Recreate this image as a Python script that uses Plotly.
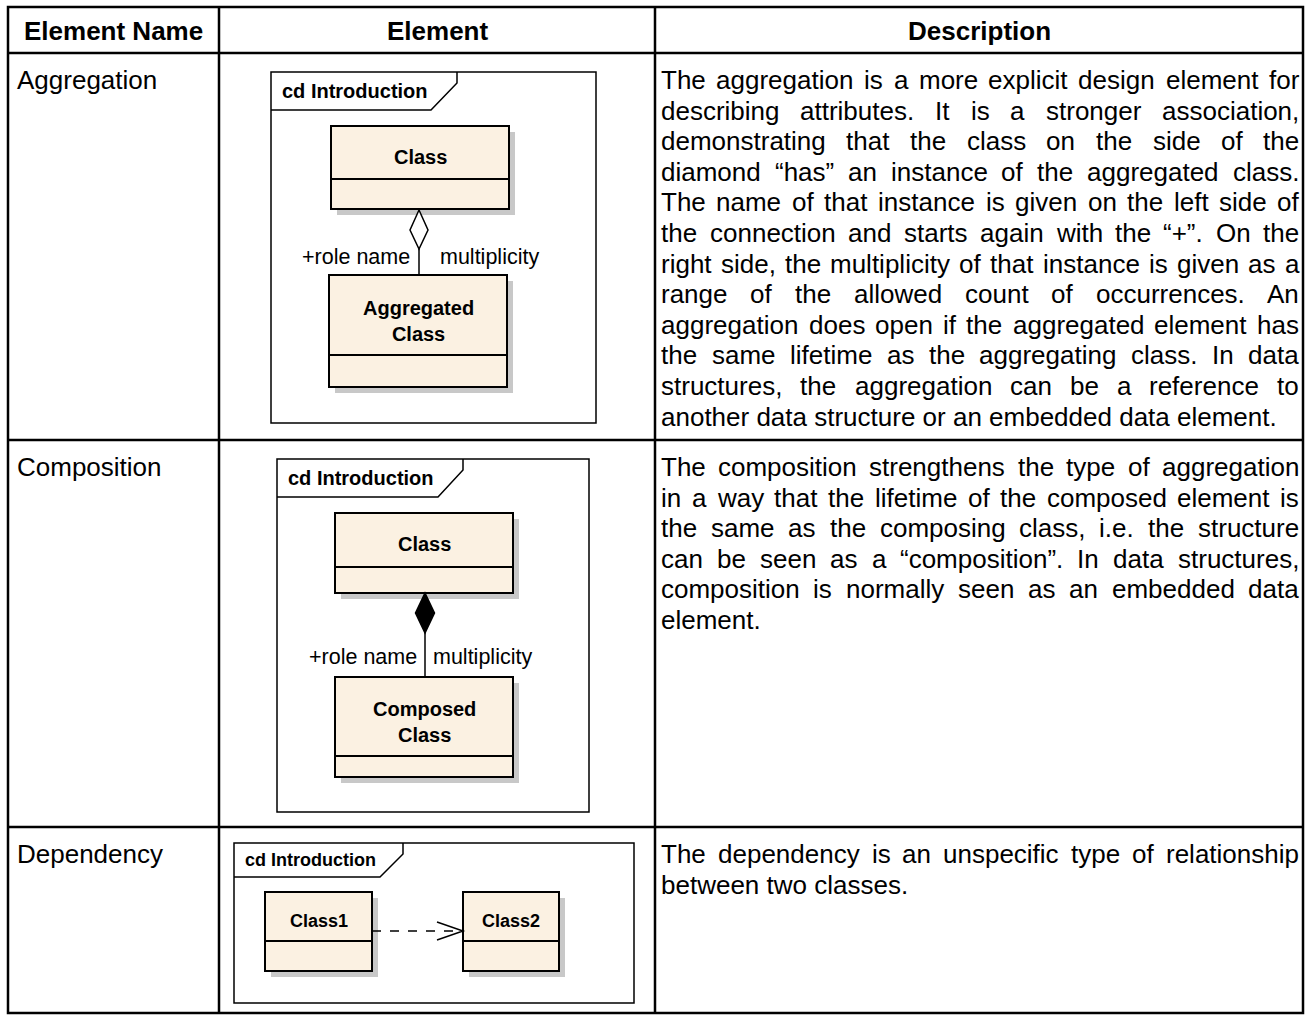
import plotly.graph_objects as go

# ---------------- data (text content) ----------------
header_labels = ["Element Name", "Element", "Description"]
element_names = ["Aggregation", "Composition", "Dependency"]
diagram_title = "cd Introduction"
aggregation_classes = ["Class", "Aggregated<br>Class"]
composition_classes = ["Class", "Composed<br>Class"]
dependency_classes = ["Class1", "Class2"]
end_labels = ["+role name", "multiplicity"]

desc_aggregation = [
    "The aggregation is a more explicit design element for",
    "describing attributes. It is a stronger association,",
    "demonstrating that the class on the side of the",
    "diamond \u201chas\u201d an instance of the aggregated class.",
    "The name of that instance is given on the left side of",
    "the connection and starts again with the \u201c+\u201d. On the",
    "right side, the multiplicity of that instance is given as a",
    "range of the allowed count of occurrences. An",
    "aggregation does open if the aggregated element has",
    "the same lifetime as the aggregating class. In data",
    "structures, the aggregation can be a reference to",
    "another data structure or an embedded data element.",
]
desc_composition = [
    "The composition strengthens the type of aggregation",
    "in a way that the lifetime of the composed element is",
    "the same as the composing class, i.e. the structure",
    "can be seen as a \u201ccomposition\u201d. In data structures,",
    "composition is normally seen as an embedded data",
    "element.",
]
desc_dependency = [
    "The dependency is an unspecific type of relationship",
    "between two classes.",
]
descriptions = [desc_aggregation, desc_composition, desc_dependency]

# ---------------- layout / style ----------------
W, H = 1306, 1016
FONT = "Liberation Sans, Arial, sans-serif"
BOX_FILL = "#FBF1E2"
SHADOW = "#C8C8C8"
col_x = [8, 219, 655, 1303]
row_y = [7, 53, 440, 827, 1013]
BODY = 26
LINE_H = 30.6
LABEL = 21.5

# Arial / Helvetica advance widths (1/1000 em)
AW = {' ': 278, '!': 278, '"': 355, "'": 191, '(': 333, ')': 333, '+': 584, ',': 278,
      '-': 333, '.': 278, '/': 278, ':': 278, ';': 278, '\u201c': 333, '\u201d': 333,
      'A': 667, 'B': 667, 'C': 722, 'D': 722, 'E': 667, 'F': 611, 'G': 778, 'H': 722,
      'I': 278, 'J': 500, 'K': 667, 'L': 556, 'M': 833, 'N': 722, 'O': 778, 'P': 667,
      'Q': 778, 'R': 722, 'S': 667, 'T': 611, 'U': 722, 'V': 667, 'W': 944, 'X': 667,
      'Y': 667, 'Z': 611, 'a': 556, 'b': 556, 'c': 500, 'd': 556, 'e': 556, 'f': 278,
      'g': 556, 'h': 556, 'i': 222, 'j': 222, 'k': 500, 'l': 222, 'm': 833, 'n': 556,
      'o': 556, 'p': 556, 'q': 556, 'r': 333, 's': 500, 't': 278, 'u': 556, 'v': 500,
      'w': 722, 'x': 500, 'y': 500, 'z': 500}


def tw(s, size):
    return sum(AW.get(c, 556) for c in s) * size / 1000.0


shapes = []
annotations = []


def text(x, y, s, size, bold=False, xanchor="center"):
    annotations.append(dict(
        x=x, y=y, xref="x", yref="y", text=("<b>%s</b>" % s) if bold else s,
        showarrow=False, xanchor=xanchor, yanchor="middle", borderpad=0,
        align="center" if xanchor == "center" else xanchor,
        font=dict(family=FONT, size=size, color="black")))


def line(x0, y0, x1, y1, width=2, dash="solid"):
    shapes.append(dict(type="line", xref="x", yref="y", x0=x0, y0=y0, x1=x1, y1=y1,
                       line=dict(color="black", width=width, dash=dash)))


def rect(x0, y0, x1, y1, fill="rgba(0,0,0,0)", lw=2, lc="black"):
    shapes.append(dict(type="rect", xref="x", yref="y", x0=x0, y0=y0, x1=x1, y1=y1,
                       fillcolor=fill, line=dict(color=lc, width=lw)))


def path(d, fill="rgba(0,0,0,0)", lw=1.5):
    shapes.append(dict(type="path", xref="x", yref="y", path=d, fillcolor=fill,
                       line=dict(color="black", width=lw)))


def uml_class(x0, y0, x1, y1, div, label, size, ty=None):
    rect(x0 + 6, y0 + 6, x1 + 6, y1 + 6, fill=SHADOW, lw=0, lc=SHADOW)
    rect(x0, y0, x1, y1, fill=BOX_FILL, lw=2)
    line(x0, div, x1, div, width=2)
    text((x0 + x1) / 2, ty if ty is not None else (y0 + div) / 2 + 4, label, size, bold=True)


def frame(x0, y0, x1, y1, tab_x, tab_slant, tab_y, title_size):
    rect(x0, y0, x1, y1, fill="white", lw=1.5)
    path("M %s,%s L %s,%s L %s,%s L %s,%s" % (x0, tab_y, tab_slant, tab_y, tab_x,
                                             y0 + 11, tab_x, y0), lw=1.5)
    text(x0 + 10, (y0 + tab_y) / 2, diagram_title, title_size, bold=True, xanchor="left")


def paragraph(lines, x_left, x_right, y0, dy, size):
    for i, ln in enumerate(lines):
        y = y0 + i * dy
        words = ln.split(" ")
        if i == len(lines) - 1 or len(words) == 1:
            text(x_left, y, ln, size, xanchor="left")
            continue
        widths = [tw(w, size) for w in words]
        gap = (x_right - x_left - sum(widths)) / (len(words) - 1)
        x = x_left
        for w, wd in zip(words, widths):
            text(x, y, w, size, xanchor="left")
            x += wd + gap


# ---------------- table grid ----------------
rect(col_x[0], row_y[0], col_x[-1], row_y[-1], lw=2.5)
for yy in row_y[1:-1]:
    line(col_x[0], yy, col_x[-1], yy, width=2.5)
for xx in col_x[1:-1]:
    line(xx, row_y[0], xx, row_y[-1], width=2.5)

# header
for i, lab in enumerate(header_labels):
    text((col_x[i] + col_x[i + 1]) / 2, (row_y[0] + row_y[1]) / 2 + 1, lab, BODY, bold=True)

# names and descriptions
for r in range(3):
    top = row_y[r + 1]
    text(col_x[0] + 8, top + 27, element_names[r], BODY, xanchor="left")
    paragraph(descriptions[r], col_x[2] + 5, col_x[3] - 5, top + 27, LINE_H, BODY)

# ---------------- diagram 1 : aggregation ----------------
frame(271, 72, 596, 423, 457, 431, 110, 20)
uml_class(331, 126, 509, 209, 179, aggregation_classes[0], 20)
path("M 419,210 L 428,230 L 419,249 L 410,230 Z", fill="white", lw=1.5)
line(419, 249, 419, 275, width=1.5)
uml_class(329, 275, 507, 387, 355, aggregation_classes[1], 20, ty=321)
text(411, 257, end_labels[0], LABEL, xanchor="right")
text(439, 257, end_labels[1], LABEL, xanchor="left")

# ---------------- diagram 2 : composition ----------------
frame(277, 459, 589, 812, 463, 438, 497, 20)
uml_class(335, 513, 513, 593, 567, composition_classes[0], 20)
path("M 425,593 L 434.5,613 L 425,633 L 415.5,613 Z", fill="black", lw=1.5)
line(425, 633, 425, 677, width=1.5)
uml_class(335, 677, 513, 777, 756, composition_classes[1], 20, ty=722)
text(418, 657, end_labels[0], LABEL, xanchor="right")
text(432, 657, end_labels[1], LABEL, xanchor="left")

# ---------------- diagram 3 : dependency ----------------
frame(234, 843, 634, 1003, 403, 380, 877, 18)
uml_class(265, 892, 372, 971, 941, dependency_classes[0], 18)
uml_class(463, 892, 559, 971, 941, dependency_classes[1], 18)
line(372, 931, 463, 931, width=1.5, dash="dash")
path("M 437,922 L 463,931 L 437,940", lw=1.5)

# ---------------- figure ----------------
fig = go.Figure(go.Scatter(x=[None], y=[None], mode="markers", showlegend=False,
                           hoverinfo="skip"))
fig.update_layout(
    width=W, height=H, autosize=False,
    margin=dict(l=0, r=0, t=0, b=0, pad=0),
    paper_bgcolor="white", plot_bgcolor="white",
    xaxis=dict(range=[0, W], visible=False, fixedrange=True),
    yaxis=dict(range=[H, 0], visible=False, fixedrange=True),
    shapes=shapes, annotations=annotations, showlegend=False,
)
fig.write_html("out.html", config={"displayModeBar": False},
               post_script="document.body.style.margin='0';document.body.style.overflow='hidden';")
